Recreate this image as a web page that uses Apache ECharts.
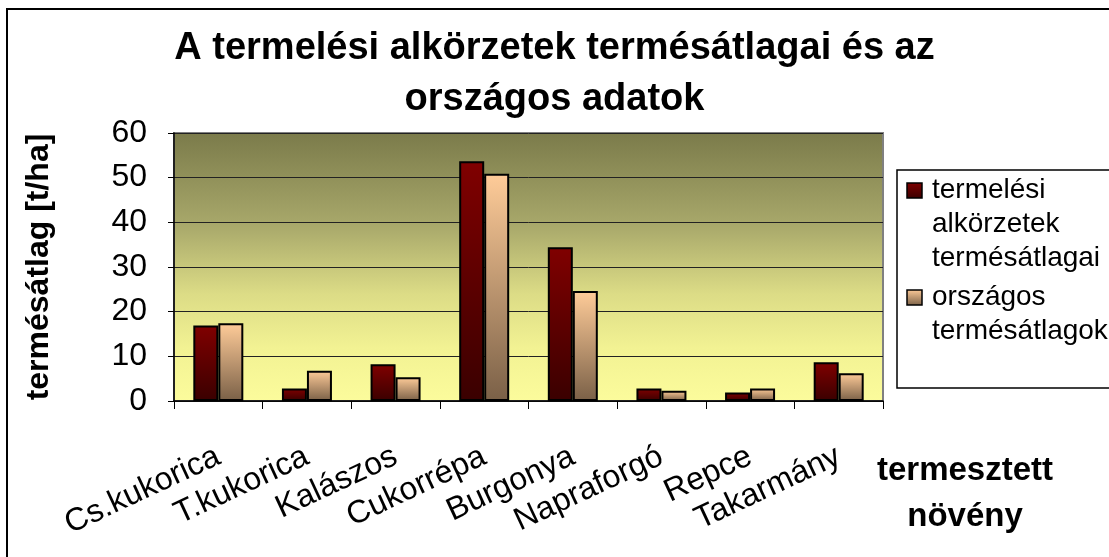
<!DOCTYPE html>
<html>
<head>
	<meta charset="UTF-8">
	<title>Termésátlagok</title>
	<style>
		html, body { margin: 0; padding: 0; background: #fff; }
		#chart { width: 1109px; height: 557px; }
	</style>
</head>
<body>
	<div id="chart"></div>

	<script src="https://cdn.jsdelivr.net/npm/echarts@6/dist/echarts.min.js"></script>
	<script type="text/javascript">
		// adatok
		var categories = ['Cs.kukorica', 'T.kukorica', 'Kalászos', 'Cukorrépa', 'Burgonya', 'Napraforgó', 'Repce', 'Takarmány'];
		var alkorzetek = [16.9, 2.8, 8.2, 53.7, 34.4, 2.8, 1.9, 8.7];
		var orszagos = [17.4, 6.8, 5.3, 50.9, 24.6, 2.3, 2.8, 6.2];
		var seriesNames = ['termelési\nalkörzetek\ntermésátlagai', 'országos\ntermésátlagok'];
		var yTicks = [0, 10, 20, 30, 40, 50, 60];

		var font = '"Liberation Sans", Arial, sans-serif';

		var myChart = echarts.init(document.getElementById('chart'));

		// oszlop színátmenetek
		var fill1 = new echarts.graphic.LinearGradient(0, 0, 0, 1, [
			{ offset: 0, color: '#800000' },
			{ offset: 1, color: '#3a0000' }
		]);
		var fill2 = new echarts.graphic.LinearGradient(0, 0, 0, 1, [
			{ offset: 0, color: '#ffcc99' },
			{ offset: 1, color: '#7a6047' }
		]);
		// rajzterület háttere
		var plotBg = new echarts.graphic.LinearGradient(0, 0, 0, 1, [
			{ offset: 0, color: '#7a7a4a' },
			{ offset: 0.35, color: '#a9a96b' },
			{ offset: 0.6, color: '#dcdc86' },
			{ offset: 0.8, color: '#f2f293' },
			{ offset: 1, color: '#fcfc9c' }
		]);

		var option = {
			animation: false,
			title: {
				text: 'A termelési alkörzetek termésátlagai és az\nországos adatok',
				left: 'center',
				top: 18,
				textStyle: {
					fontFamily: font,
					fontSize: 38,
					fontWeight: 'bold',
					color: '#000',
					lineHeight: 51
				}
			},
			grid: {
				left: 174,
				top: 133,
				right: 226,
				bottom: 156,
				show: true,
				backgroundColor: plotBg,
				borderColor: '#808080',
				borderWidth: 2
			},
			xAxis: {
				type: 'category',
				data: categories,
				axisLine: { lineStyle: { color: '#000', width: 1.5 } },
				axisTick: { show: true, alignWithLabel: false, length: 8, lineStyle: { color: '#000' } },
				axisLabel: {
					rotate: 25,
					margin: 54,
					interval: 0,
					color: '#000',
					fontFamily: font,
					fontSize: 32
				}
			},
			yAxis: {
				type: 'value',
				min: yTicks[0],
				max: yTicks[yTicks.length - 1],
				interval: 10,
				name: 'termésátlag [t/ha]',
				nameLocation: 'middle',
				nameRotate: 90,
				nameGap: 119,
				nameTextStyle: {
					fontFamily: font,
					fontSize: 32,
					fontWeight: 'bold',
					color: '#000'
				},
				axisLine: { show: true, lineStyle: { color: '#000', width: 1.5 } },
				axisTick: { show: true, inside: false, length: 6, lineStyle: { color: '#000' } },
				splitLine: { show: true, lineStyle: { color: '#222', width: 1 } },
				axisLabel: {
					margin: 27,
					color: '#000',
					fontFamily: font,
					fontSize: 32
				}
			},
			series: [{
				name: seriesNames[0],
				type: 'bar',
				barWidth: 25,
				barGap: '0%',
				data: alkorzetek,
				itemStyle: { color: fill1, borderColor: '#000', borderWidth: 2 }
			}, {
				name: seriesNames[1],
				type: 'bar',
				barWidth: 25,
				data: orszagos,
				itemStyle: { color: fill2, borderColor: '#000', borderWidth: 2 }
			}],
			graphic: [
				// keret
				{
					type: 'rect',
					shape: { x: 7, y: 9, width: 1120, height: 560 },
					style: { fill: 'none', stroke: '#000', lineWidth: 2 },
					z: 0
				},
				// x tengely címe
				{
					type: 'text',
					x: 965,
					y: 448,
					style: {
						text: 'termesztett\nnövény',
						fontFamily: font,
						fontSize: 33,
						fontWeight: 'bold',
						fill: '#000',
						align: 'center',
						lineHeight: 46
					}
				},
				// jelmagyarázat
				{
					type: 'rect',
					shape: { x: 897, y: 170, width: 230, height: 218 },
					style: { fill: '#fff', stroke: '#000', lineWidth: 1.5 }
				},
				{
					type: 'rect',
					shape: { x: 907, y: 183, width: 15, height: 15 },
					style: { fill: fill1, stroke: '#000', lineWidth: 1.5 }
				},
				{
					type: 'text',
					x: 932,
					y: 173,
					style: {
						text: seriesNames[0],
						fontFamily: font,
						fontSize: 28,
						fill: '#000',
						lineHeight: 34
					}
				},
				{
					type: 'rect',
					shape: { x: 907, y: 290, width: 15, height: 15 },
					style: { fill: fill2, stroke: '#000', lineWidth: 1.5 }
				},
				{
					type: 'text',
					x: 932,
					y: 280,
					style: {
						text: seriesNames[1],
						fontFamily: font,
						fontSize: 28,
						fill: '#000',
						lineHeight: 34
					}
				}
			]
		};

		myChart.setOption(option);
	</script>
</body>
</html>
